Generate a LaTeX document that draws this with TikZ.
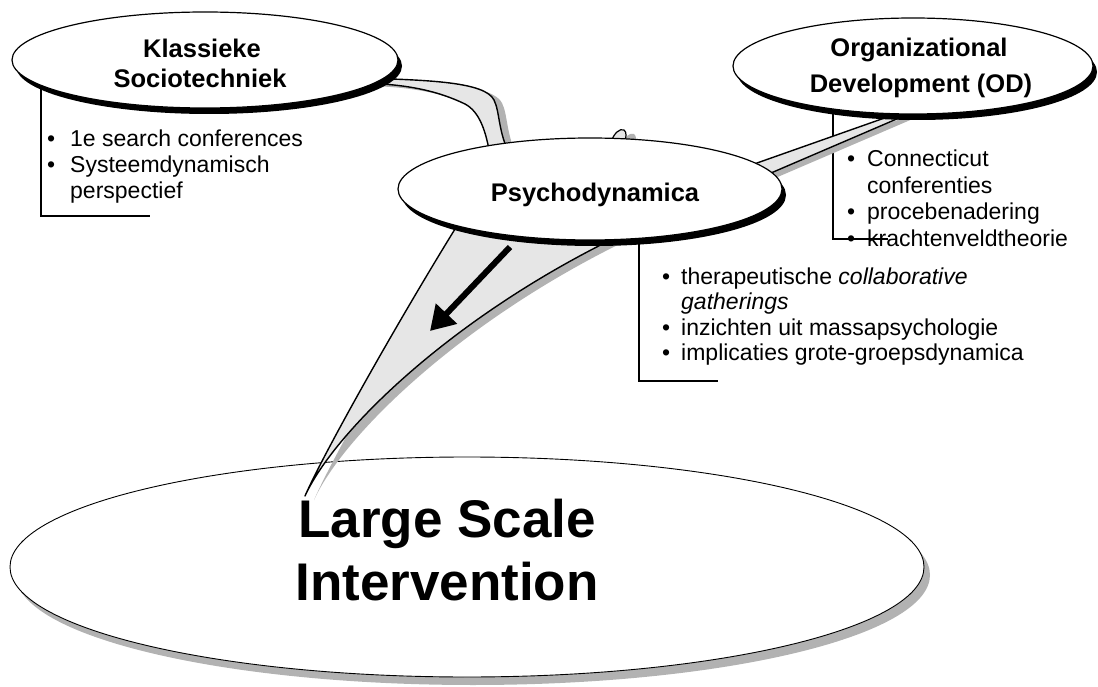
\documentclass[tikz,border=0pt]{standalone}
\usepackage{fontspec}
\setmainfont{Liberation Sans}
\usetikzlibrary{shapes.geometric,arrows.meta,shadows}
\definecolor{connfill}{HTML}{E6E6E6}
\definecolor{shadegrey}{HTML}{B2B2B2}
\begin{document}
\begin{tikzpicture}[x=1pt,y=-1pt,
  bubble/.style={ellipse, draw=black, line width=1.2pt, fill=white, inner sep=0pt},
  blackshadow/.style={drop shadow={shadow xshift=4pt, shadow yshift=-6pt, fill=black, opacity=1, draw=none}},
  greyshadow/.style={drop shadow={shadow xshift=6pt, shadow yshift=-8pt, fill=shadegrey, opacity=1, draw=none}},
  titletext/.style={font=\fontsize{25.5}{30}\selectfont\bfseries, anchor=base, inner sep=0pt},
  bigtext/.style={font=\fontsize{53}{63}\selectfont\bfseries, anchor=base, inner sep=0pt},
  bultext/.style={font=\fontsize{23}{26}\selectfont, anchor=base west, inner sep=0pt},
  conn/.style={fill=connfill, draw=black, line width=1.4pt, line join=round},
  connshadow/.style={fill=shadegrey, draw=none},
  bracket/.style={draw=black, line width=1.4pt},
  bigarrow/.style={draw=black, line width=6pt, -{Triangle[length=24pt,width=28pt]}},
]
\useasboundingbox (0,0) rectangle (1098,687);

% ---- large bottom ellipse
\node[bubble, line width=0.9pt, greyshadow, minimum width=914pt, minimum height=220pt] (lsi) at (467,567) {};
\node[bigtext] (lsi1) at (447,537) {Large Scale};
\node[bigtext] (lsi2) at (447,600) {Intervention};

% ---- bracket lines
\coordinate (kbA) at (41,80);  \coordinate (kbB) at (41,216);  \coordinate (kbC) at (150,216);
\coordinate (obA) at (833,100); \coordinate (obB) at (833,239); \coordinate (obC) at (888,239);
\coordinate (pbA) at (639,230); \coordinate (pbB) at (639,381); \coordinate (pbC) at (718,381);
\draw[bracket] (kbA) -- (kbB) -- (kbC);
\draw[bracket] (obA) -- (obB) -- (obC);
\draw[bracket] (pbA) -- (pbB) -- (pbC);

% ---- connector Klassieke -> Psychodynamica
\begin{scope}[shift={(8,3)}]
\fill[connshadow] (360,78) .. controls (430,80) and (485,82) .. (494,100) .. controls (500,112) and (498,132) .. (510,155) -- (490,155) .. controls (486,132) and (480,112) .. (465,104) .. controls (440,92) and (410,84) .. (360,83) -- cycle;
\end{scope}
\path[conn] (360,78) .. controls (430,80) and (485,82) .. (494,100) .. controls (500,112) and (498,132) .. (510,155) -- (490,155) .. controls (486,132) and (480,112) .. (465,104) .. controls (440,92) and (410,84) .. (360,83) -- cycle;

% ---- small tip above Psychodynamica
\begin{scope}[shift={(10,4)}]
\fill[connshadow] (611,142) .. controls (614,133) and (620,128) .. (624,130) .. controls (627,132) and (626,137) .. (625,142) -- cycle;
\end{scope}
\path[conn, line width=1.2pt] (611,142) .. controls (614,133) and (620,128) .. (624,130) .. controls (627,132) and (626,137) .. (625,142) -- cycle;

% ---- connector OD -> Psychodynamica
\begin{scope}[shift={(2,6)}]
\fill[connshadow] (910,109) -- (740,169) -- (750,182) -- (920,109) -- cycle;
\end{scope}
\path[conn] (910,109) -- (740,169) -- (750,182) -- (920,109) -- cycle;

% ---- connector Psychodynamica -> Large Scale Intervention
\begin{scope}[shift={(9,4)}]
\fill[connshadow] (305,496) .. controls (325,450) and (410,300) .. (470,205) -- (640,226) .. controls (460,308) and (335,430) .. (305,496) -- cycle;
\end{scope}
\path[conn] (305,496) .. controls (325,450) and (410,300) .. (470,205) -- (640,226) .. controls (460,308) and (335,430) .. (305,496) -- cycle;

% ---- arrow
\coordinate (arrS) at (510,247);
\coordinate (arrE) at (430,331);
\draw[bigarrow] (arrS) -- (arrE);

% ---- top ellipses
\node[bubble, blackshadow, minimum width=386pt, minimum height=96pt] (ks) at (205,60) {};
\node[titletext] (ks1) at (202,58) {Klassieke};
\node[titletext] (ks2) at (200,88) {Sociotechniek};

\node[bubble, blackshadow, minimum width=360pt, minimum height=96pt] (od) at (913,66) {};
\node[titletext] (od1) at (919,57) {Organizational};
\node[titletext] (od2) at (921,93) {Development (OD)};

\node[bubble, blackshadow, minimum width=384pt, minimum height=102pt] (pd) at (590,189) {};
\node[titletext] (pd1) at (595,202) {Psychodynamica};

% ---- bullet texts: Klassieke
\node[bultext] (kb1) at (47,147) {•};
\node[bultext] (kt1) at (70,147) {1e search conferences};
\node[bultext] (kb2) at (47,173) {•};
\node[bultext] (kt2) at (70,173) {Systeemdynamisch};
\node[bultext] (kt3) at (70,199) {perspectief};

% ---- bullet texts: OD
\node[bultext] (ob1) at (847,167) {•};
\node[bultext] (ot1) at (867,167) {Connecticut};
\node[bultext] (ot2) at (867,193.5) {conferenties};
\node[bultext] (ob3) at (847,220) {•};
\node[bultext] (ot3) at (867,220) {procebenadering};
\node[bultext] (ob4) at (847,246.5) {•};
\node[bultext] (ot4) at (867,246.5) {krachtenveldtheorie};

% ---- bullet texts: Psychodynamica
\node[bultext] (pb1) at (662,284) {•};
\node[bultext] (pt1) at (681,284) {therapeutische \textit{collaborative}};
\node[bultext] (pt2) at (681,309.5) {\textit{gatherings}};
\node[bultext] (pb3) at (662,335) {•};
\node[bultext] (pt3) at (681,335) {inzichten uit massapsychologie};
\node[bultext] (pb4) at (662,360.5) {•};
\node[bultext] (pt4) at (681,360.5) {implicaties grote-groepsdynamica};
\end{tikzpicture}
\end{document}
